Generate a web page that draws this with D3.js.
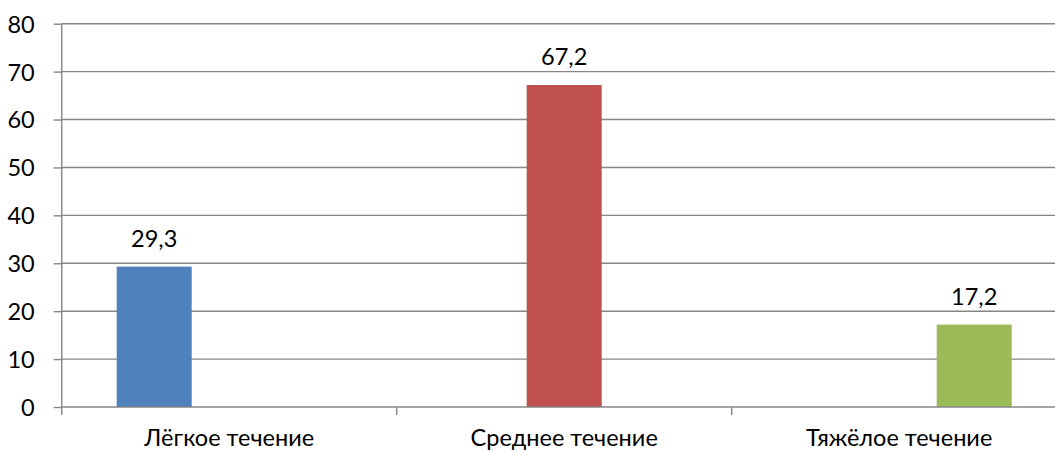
<!DOCTYPE html>
<html>
<head>
<meta charset="utf-8">
<script src="https://cdn.jsdelivr.net/npm/d3@7"></script>
<style>
  html, body { margin: 0; padding: 0; background: #fff; }
  svg { display: block; }
  text { font-family: "Lato", "Open Sans", sans-serif; fill: #000; }
</style>
</head>
<body>
<svg id="chart" width="1055" height="452"></svg>
<script>
// Severity groups and their shares
const categories = ["Лёгкое течение", "Среднее течение", "Тяжёлое течение"];
const values = [29.3, 67.2, 17.2];
const labels = ["29,3", "67,2", "17,2"];
const colors = ["#4F81BD", "#C0504D", "#9BBB59"];
const yTicks = [0, 10, 20, 30, 40, 50, 60, 70, 80];

const fontSize = "23.5px";
const svg = d3.select("#chart");
const margin = { left: 61.7, top: 23.7 };
const plotW = 1005;           // runs past the right edge of the view
const plotH = 407 - margin.top;

const x = d3.scaleBand().domain(categories).range([0, plotW]);
const y = d3.scaleLinear().domain([0, 80]).range([plotH, 0]);

// each group holds three slots with a gap around them; series i sits in slot i
const bw = 75, gap = 55;
const barX = i => x(categories[i]) + gap + i * bw;

const g = svg.append("g").attr("transform", `translate(${margin.left},${margin.top})`);

// horizontal gridlines
g.append("g").selectAll("line").data(yTicks.slice(1)).join("line")
  .attr("x1", 0).attr("x2", plotW)
  .attr("y1", d => y(d)).attr("y2", d => y(d))
  .attr("stroke", "#868686").attr("stroke-width", 1.4);

// y axis
const yAxis = g.append("g").call(d3.axisLeft(y).tickValues(yTicks).tickSize(8).tickPadding(19).tickFormat(d3.format("d")));
yAxis.select(".domain").attr("stroke", "#868686").attr("stroke-width", 1.4).attr("d", `M0,${plotH + 8}V0`);
yAxis.selectAll(".tick line").attr("stroke", "#868686").attr("stroke-width", 1.4);
yAxis.selectAll(".tick text").style("font-size", fontSize).attr("dy", "0.36em");

// bars
g.append("g").selectAll("rect").data(values).join("rect")
  .attr("x", (d, i) => barX(i))
  .attr("width", bw)
  .attr("y", d => y(d))
  .attr("height", d => plotH - y(d))
  .attr("fill", (d, i) => colors[i]);

// x axis
const xAxis = g.append("g").attr("transform", `translate(0,${plotH})`)
  .call(d3.axisBottom(x).tickSize(0).tickPadding(22));
xAxis.select(".domain").attr("stroke", "#868686").attr("stroke-width", 1.4).attr("d", `M0,0H${plotW}`);
xAxis.selectAll(".tick text").style("font-size", fontSize);
// boundary ticks between groups
g.append("g").selectAll("line").data(d3.range(1, categories.length + 1)).join("line")
  .attr("x1", i => i * x.bandwidth()).attr("x2", i => i * x.bandwidth())
  .attr("y1", plotH).attr("y2", plotH + 8)
  .attr("stroke", "#868686").attr("stroke-width", 1.4);

// value labels
g.append("g").selectAll("text").data(values).join("text")
  .attr("x", (d, i) => barX(i) + bw / 2)
  .attr("y", d => y(d) - 20)
  .attr("text-anchor", "middle")
  .style("font-size", fontSize)
  .text((d, i) => labels[i]);
</script>
</body>
</html>
